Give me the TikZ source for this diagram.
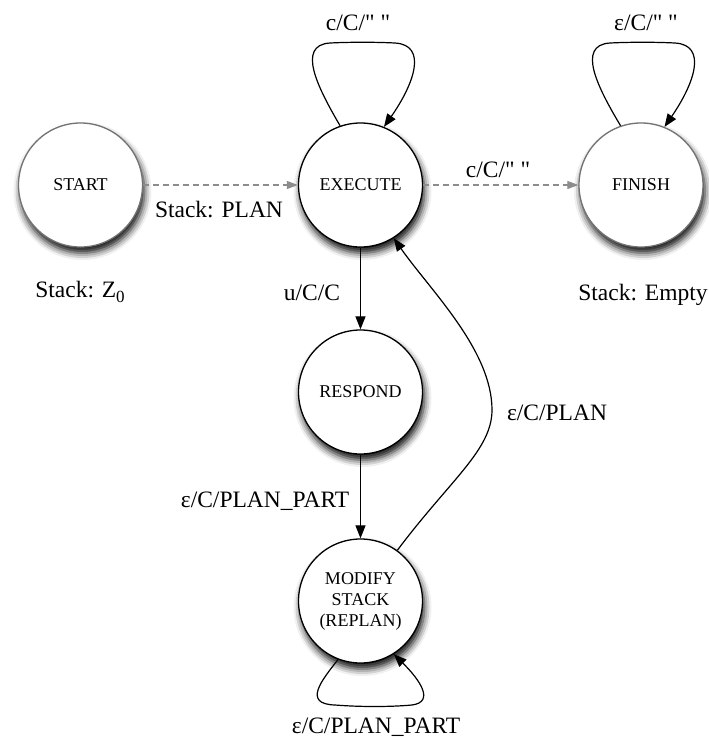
\documentclass[tikz,border=0pt]{standalone}
\usepackage{fontspec}
\setmainfont{Liberation Serif}[Ligatures=TeXOff]
\usetikzlibrary{arrows.meta,shadows.blur}

\begin{document}
\begin{tikzpicture}[x=1pt,y=-1pt,
  state/.style={circle, draw=black, line width=1.3pt, fill=white,
    minimum size=124pt, inner sep=0pt, align=center,
    font=\fontsize{18}{21}\selectfont,
    blur shadow={shadow xshift=2pt, shadow yshift=-6pt,
      shadow blur radius=7pt, shadow opacity=95}},
  softstate/.style={state, draw=black!55},
  lbl/.style={anchor=base, inner sep=0pt, font=\fontsize{23.5}{26}\selectfont},
  trans/.style={line width=1.2pt, -{Triangle[length=13pt,width=10pt]}},
  pending/.style={draw=black!45, line width=1.1pt, dash pattern=on 6pt off 4pt,
    -{Triangle[length=11pt,width=8pt]}},
]
\path[use as bounding box] (0,0) rectangle (709,740);

% states
\node[softstate] (start)   at (80.5,185)  {START};
\node[state]     (execute) at (360.5,185) {EXECUTE};
\node[softstate] (finish)  at (641,185)   {FINISH};
\node[state]     (respond) at (360.5,392) {RESPOND};
\node[state]     (modify)  at (360.5,601) {MODIFY\\STACK\\(REPLAN)};

% stack notes
\node[lbl] (stZ)    at (80,297)  {Stack: Z\raisebox{-5pt}{\fontsize{17}{17}\selectfont 0}};
\node[lbl] (stPlan) at (219,217) {Stack: PLAN};
\node[lbl] (stEmp)  at (643,300) {Stack: Empty};

% transitions
\draw[pending] (start) -- (execute);
\draw[pending] (execute) -- (finish);
\node[lbl] (lEF) at (498,177) {c/C/" "};

% self loops: narrow neck, flat top
\draw[trans] (execute.109) .. controls (318,88) and (296,45) .. (330,43)
  .. controls (350,42) and (375,42) .. (395,43)
  .. controls (428,45) and (414,84) .. (execute.68);
\node[lbl] (lEE) at (358,30) {c/C/" "};

\draw[trans] (finish.109) .. controls (598,88) and (576,45) .. (610,43)
  .. controls (630,42) and (655,42) .. (675,43)
  .. controls (708,45) and (694,84) .. (finish.68);
\node[lbl] (lFF) at (646,30) {ε/C/" "};

\draw[trans] (execute) -- (respond);
\node[lbl] (lER) at (312,300) {u/C/C};

\draw[trans] (respond) -- (modify);
\node[lbl] (lRM) at (265,507) {ε/C/PLAN\_PART};

\draw[trans] (modify.54) .. controls (450,480) and (492,450) .. (492,410)
  .. controls (492,350) and (430,290) .. (execute.-58);
\node[lbl] (lME) at (557,420) {ε/C/PLAN};

\draw[trans] (modify.249) .. controls (322,680) and (302,704) .. (335,705)
  .. controls (360,707) and (390,707) .. (412,705)
  .. controls (435,702) and (420,680) .. (modify.302);
\node[lbl] (lMM) at (376,733) {ε/C/PLAN\_PART};
\end{tikzpicture}
\end{document}
